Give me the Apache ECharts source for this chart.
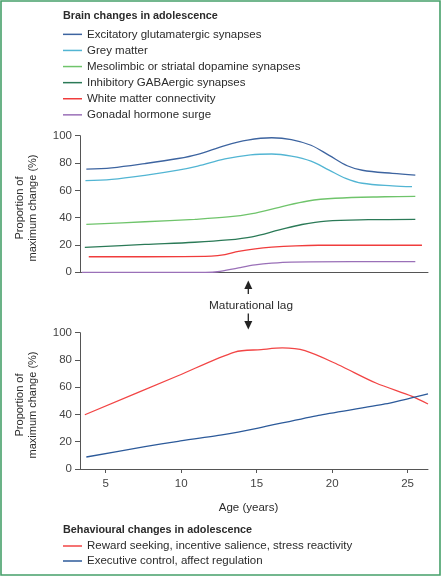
<!DOCTYPE html>
<html>
<head>
<meta charset="utf-8">
<script src="https://cdn.jsdelivr.net/npm/echarts@6/dist/echarts.min.js"></script>
<style>
  html, body { margin: 0; padding: 0; background: #fff; }
  #main { width: 442px; height: 577px; }
</style>
</head>
<body>
<div id="main"></div>
<script>
// values: [age (years), proportion of maximum change (%)]
const excitatory = [[3.72, 75.6], [5.4, 76.5], [7.6, 79.6], [9.8, 83.3], [11.1, 86.4], [12.9, 92.8], [14.4, 96.8], [16.0, 98.5], [17.3, 97.2], [18.6, 93], [19.8, 85.6], [21.0, 78], [22.0, 74.7], [24.0, 72.4], [25.51, 71.2]]
const greyMatter = [[3.66, 67.1], [5.4, 68], [7.6, 71], [9.8, 74.8], [11.1, 77.8], [12.9, 83], [14.6, 86], [16.0, 86.6], [17.3, 85.1], [18.6, 81.4], [19.8, 74.8], [20.9, 68.8], [22.0, 65.2], [24.0, 63.3], [25.29, 62.7]]
const mesolimbic = [[3.72, 35.1], [7.6, 37], [10.9, 38.8], [13.1, 40.5], [14.7, 43], [16.5, 47.6], [18.4, 52.2], [20.2, 54.2], [23.5, 55.3], [25.51, 55.6]]
const inhibitory = [[3.62, 18.3], [7.6, 20.4], [10.9, 22], [13.1, 23.7], [14.7, 26], [16.5, 31], [18.0, 35], [19.6, 37.5], [22.4, 38.5], [25.51, 38.8]]
const whiteMatter = [[3.88, 11.4], [7.6, 11.4], [12.0, 11.8], [12.9, 12.9], [13.8, 15.3], [14.9, 17.2], [16.0, 18.4], [17.6, 19.4], [19.1, 19.8], [25.95, 19.8]]
const gonadal = [[3.42, 0], [11.6, 0], [12.4, 0.4], [13.8, 3.3], [14.9, 5.4], [16.0, 6.7], [17.3, 7.5], [21.3, 7.8], [25.51, 7.8]]

const rewardSeeking = [[3.62, 39.8], [9.79, 68.4], [13.55, 85.8], [15.3, 87.6], [16.7, 88.8], [18.2, 86.8], [20.4, 76.5], [22.9, 63.1], [25.3, 53.3], [26.35, 47.7]]
const executiveControl = [[3.72, 8.8], [7.6, 16.4], [9.8, 20.3], [12.7, 25], [15.1, 30], [19.1, 39.4], [23.5, 47.7], [26.35, 55.2]]

const brainNames = ['Excitatory glutamatergic synapses', 'Grey matter', 'Mesolimbic or striatal dopamine synapses', 'Inhibitory GABAergic synapses', 'White matter connectivity', 'Gonadal hormone surge']
const brainColors = ['#3d64a0', '#52b5d3', '#6fc46b', '#2b7a57', '#f03c3c', '#9a70b8']
const behaviourNames = ['Reward seeking, incentive salience, stress reactivity', 'Executive control, affect regulation']
const behaviourColors = ['#f24545', '#2c5a9a']
const ageTicks = [5, 10, 15, 20, 25]

const font = 'Liberation Sans, Arial, sans-serif'
const textColor = '#2b2b2b'
const axisColor = '#555'

function yAxisOpt(gridIndex) {
  return {
    gridIndex,
    type: 'value',
    min: 0,
    max: 100,
    interval: 20,
    axisLine: { show: true, lineStyle: { color: axisColor, width: 1 } },
    axisTick: { show: true, length: 5, lineStyle: { color: axisColor } },
    axisLabel: { fontSize: 11.5, color: '#444', margin: 8, fontFamily: font },
    splitLine: { show: false }
  }
}

function legendOpt(names, top, lineHeight) {
  return {
    data: names,
    orient: 'vertical',
    left: 63,
    top,
    padding: 0,
    itemGap: 0,
    itemWidth: 19,
    itemHeight: 1.5,
    icon: 'rect',
    selectedMode: false,
    textStyle: { fontSize: 11.5, lineHeight, color: textColor, fontFamily: font }
  }
}

function lineSeries(name, data, color, index, smooth) {
  return {
    type: 'line',
    name,
    data,
    xAxisIndex: index,
    yAxisIndex: index,
    smooth,
    showSymbol: false,
    symbol: 'none',
    lineStyle: { color, width: 1.3 },
    itemStyle: { color },
    silent: true
  }
}

function setChartOption(myChart) {
  const curves = [excitatory, greyMatter, mesolimbic, inhibitory, whiteMatter, gonadal]
  const axisTitle = 'Proportion of\nmaximum change (%)'
  const option = {
    animation: false,
    title: [
      { text: 'Brain changes in adolescence', left: 63, top: 11, padding: 0, textStyle: { fontSize: 10.8, fontWeight: 'bold', color: textColor, fontFamily: font } },
      { text: 'Behavioural changes in adolescence', left: 63, top: 525, padding: 0, textStyle: { fontSize: 10.8, fontWeight: 'bold', color: textColor, fontFamily: font } }
    ],
    legend: [
      legendOpt(brainNames, 26.3, 16.1),
      legendOpt(behaviourNames, 538.5, 15)
    ],
    grid: [
      { left: 80, right: 14, top: 135.7, height: 136.6 },
      { left: 80, right: 14, top: 332.7, height: 136.3 }
    ],
    xAxis: [
      {
        gridIndex: 0,
        type: 'value',
        min: 3.3,
        max: 26.35,
        axisLine: { show: true, lineStyle: { color: axisColor, width: 1 } },
        axisTick: { show: false },
        axisLabel: { show: false },
        splitLine: { show: false }
      },
      {
        gridIndex: 1,
        type: 'value',
        min: 3.3,
        max: 26.35,
        name: 'Age (years)',
        nameLocation: 'middle',
        nameGap: 33,
        nameTextStyle: { fontSize: 11.5, color: textColor, fontFamily: font, padding: [0, 11, 0, 0] },
        axisLine: { show: true, lineStyle: { color: axisColor, width: 1 } },
        axisTick: { show: true, length: 4, customValues: ageTicks, lineStyle: { color: axisColor } },
        axisLabel: { customValues: ageTicks, fontSize: 11.5, color: '#444', margin: 9, fontFamily: font },
        splitLine: { show: false }
      }
    ],
    yAxis: [yAxisOpt(0), yAxisOpt(1)],
    series: [
      ...curves.map((d, i) => lineSeries(brainNames[i], d, brainColors[i], 0, 0.35)),
      lineSeries(behaviourNames[0], rewardSeeking, behaviourColors[0], 1, 0.3),
      lineSeries(behaviourNames[1], executiveControl, behaviourColors[1], 1, 0.2)
    ],
    graphic: [
      { type: 'rect', shape: { x: 1, y: 1, width: 439, height: 574 }, style: { fill: 'none', stroke: '#46a06a', lineWidth: 1.6 }, silent: true },
      { type: 'text', x: 26.5, y: 208, rotation: Math.PI / 2, style: { text: axisTitle, fontSize: 11, lineHeight: 13, fill: textColor, align: 'center', verticalAlign: 'middle', fontFamily: font } },
      { type: 'text', x: 26.5, y: 405, rotation: Math.PI / 2, style: { text: axisTitle, fontSize: 11, lineHeight: 13, fill: textColor, align: 'center', verticalAlign: 'middle', fontFamily: font } },
      { type: 'text', x: 251, y: 305.7, style: { text: 'Maturational lag', fontSize: 11.8, fill: textColor, align: 'center', verticalAlign: 'middle', fontFamily: font } },
      // arrows either side of the label
      { type: 'line', shape: { x1: 248.3, y1: 288, x2: 248.3, y2: 294 }, style: { stroke: '#222', lineWidth: 1.3 } },
      { type: 'polygon', shape: { points: [[244.3, 289], [252.3, 289], [248.3, 280.5]] }, style: { fill: '#222' } },
      { type: 'line', shape: { x1: 248.3, y1: 313.5, x2: 248.3, y2: 322 }, style: { stroke: '#222', lineWidth: 1.3 } },
      { type: 'polygon', shape: { points: [[244.3, 321], [252.3, 321], [248.3, 329.5]] }, style: { fill: '#222' } }
    ]
  }
  myChart.setOption(option)
}

const myChart = echarts.init(document.getElementById('main'))
setChartOption(myChart)
window.onresize = function () {
  myChart.resize()
}
</script>
</body>
</html>
